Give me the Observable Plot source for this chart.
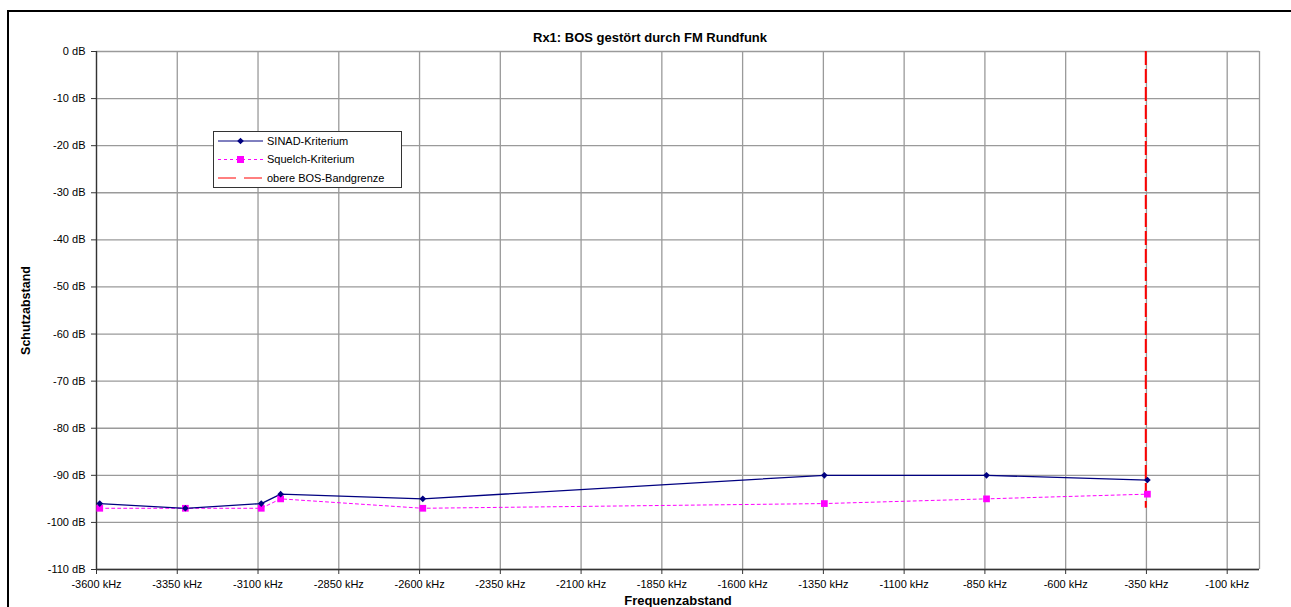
<!DOCTYPE html>
<html>
<head>
<meta charset="utf-8">
<script src="https://cdn.jsdelivr.net/npm/d3@7"></script>
<script src="https://cdn.jsdelivr.net/npm/@observablehq/plot@0.6"></script>
<style>
  html, body { margin: 0; padding: 0; background: #fff; }
  #wrap { position: relative; width: 1291px; height: 607px; overflow: hidden; font-family: "Liberation Sans", Arial, sans-serif; }
  #border { position: absolute; left: 7px; top: 10px; width: 1400px; height: 700px; border-left: 2px solid #000; border-top: 2px solid #000; box-sizing: border-box; }
  #legend { position: absolute; left: 213px; top: 131px; width: 189px; height: 57px; border: 1px solid #333; background: #fff; box-sizing: border-box; }
</style>
</head>
<body>
<div id="wrap">
  <div id="border"></div>
  <div id="chart" style="position:absolute;left:0;top:0;"></div>
  <div id="legend"></div>
</div>
<script>
// ---- data ----
const freq    = [-3590, -3325, -3090, -3030, -2590, -1347, -845, -347];
const sinad   = [-96, -97, -96, -94, -95, -90, -90, -91];
const squelch = [-97, -97, -97, -95, -97, -96, -95, -94];
const bandEdge = -352;
const bandEdgeTop = 0;
const bandEdgeBottom = -97;
const xTicks = [-3600, -3350, -3100, -2850, -2600, -2350, -2100, -1850, -1600, -1350, -1100, -850, -600, -350, -100];
const yTicks = [0, -10, -20, -30, -40, -50, -60, -70, -80, -90, -100, -110];
const seriesNames = ["SINAD-Kriterium", "Squelch-Kriterium", "obere BOS-Bandgrenze"];
const titleText = "Rx1: BOS gestört durch FM Rundfunk";
const xLabel = "Frequenzabstand";
const yLabel = "Schutzabstand";

const sinadData = freq.map((f, i) => ({f, v: sinad[i]}));
const squelchData = freq.map((f, i) => ({f, v: squelch[i]}));

const NAVY = "#000080", MAG = "#ff00ff", RED = "#ff0000", GRID = "#9a9a9a";

const chart = Plot.plot({
  width: 1291,
  height: 607,
  marginLeft: 96,
  marginRight: 32,
  marginTop: 51,
  marginBottom: 38,
  style: {fontFamily: "'Liberation Sans', Arial, sans-serif", fontSize: "11px", background: "transparent", color: "#000"},
  x: {domain: [-3600, 0]},
  y: {domain: [-110, 0]},
  marks: [
    Plot.gridX(xTicks, {stroke: GRID, strokeOpacity: 1, strokeWidth: 1.3}),
    Plot.gridY(yTicks, {stroke: GRID, strokeOpacity: 1, strokeWidth: 1.3}),
    Plot.ruleX([0], {stroke: GRID, strokeWidth: 1.3}),
    Plot.axisX(xTicks, {tickFormat: d => d + " kHz", tickSize: 5, tickPadding: 6, label: null, fontSize: 11, stroke: "#333"}),
    Plot.axisY(yTicks, {tickFormat: d => d + " dB", tickSize: 5, tickPadding: 6, label: null, fontSize: 11, stroke: "#333"}),
    Plot.ruleX([-3600], {stroke: "#333", strokeWidth: 1.3}),
    Plot.ruleY([-110], {stroke: "#333", strokeWidth: 1.3}),
    Plot.line(squelchData, {x: "f", y: "v", stroke: MAG, strokeWidth: 1, strokeDasharray: "3,3"}),
    Plot.line(sinadData, {x: "f", y: "v", stroke: NAVY, strokeWidth: 1.3}),
    Plot.ruleX([bandEdge], {y1: bandEdgeTop, y2: bandEdgeBottom, stroke: RED, strokeWidth: 2, strokeDasharray: "14,4"}),
    Plot.dot(squelchData, {x: "f", y: "v", symbol: "square", r: 3.8, fill: MAG, stroke: "none"}),
    Plot.dot(sinadData, {x: "f", y: "v", symbol: "diamond2", r: 3, fill: NAVY, stroke: "none"}),
    Plot.text([titleText], {frameAnchor: "top", lineAnchor: "middle", textAnchor: "middle", dy: -14, dx: -28, fontSize: 13, fontWeight: "bold"}),
    Plot.text([xLabel], {frameAnchor: "bottom", lineAnchor: "middle", textAnchor: "middle", dy: 31, fontSize: 13, fontWeight: "bold"}),
    Plot.text([yLabel], {frameAnchor: "left", lineAnchor: "middle", textAnchor: "middle", dx: -71, rotate: -90, fontSize: 12.5, fontWeight: "bold"})
  ]
});
document.getElementById("chart").appendChild(chart);

// legend
const lg = d3.select("#legend").append("svg").attr("width", 187).attr("height", 55)
  .style("font-family", "'Liberation Sans', Arial, sans-serif").style("font-size", "11px");
const rows = [
  {name: seriesNames[0], stroke: NAVY, dash: null, sym: "diamond"},
  {name: seriesNames[1], stroke: MAG, dash: "3,3", sym: "square"},
  {name: seriesNames[2], stroke: RED, dash: "18,8", sym: null}
];
rows.forEach((r, i) => {
  const y = 9 + i * 18.5;
  lg.append("line").attr("x1", 4).attr("x2", 49).attr("y1", y).attr("y2", y)
    .attr("stroke", r.stroke).attr("stroke-width", 1).attr("stroke-dasharray", r.dash);
  if (r.sym === "diamond") {
    lg.append("path").attr("d", d3.symbol(d3.symbolDiamond2, 28)()).attr("transform", `translate(26.5,${y})`).attr("fill", NAVY);
  } else if (r.sym === "square") {
    lg.append("rect").attr("x", 23).attr("y", y - 3.5).attr("width", 7).attr("height", 7).attr("fill", MAG);
  }
  lg.append("text").attr("x", 53).attr("y", y).attr("dy", "0.35em").text(r.name).attr("fill", "#000");
});
</script>
</body>
</html>
